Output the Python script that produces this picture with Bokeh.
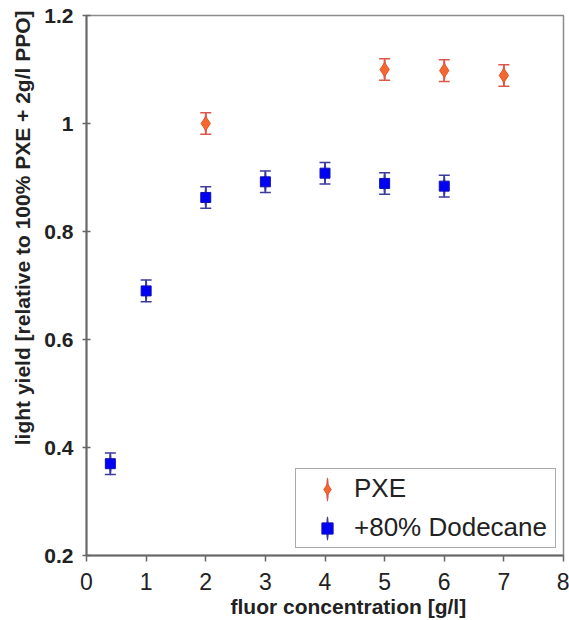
from bokeh.plotting import figure
from bokeh.models import (ColumnDataSource, Whisker, TeeHead, Legend, LegendItem,
                          FixedTicker, Title)
from bokeh.embed import file_html
from bokeh.resources import INLINE

# Light yield versus fluor concentration
pxe_conc = [2, 5, 6, 7]
pxe_yield = [1.000, 1.100, 1.098, 1.089]
pxe_err = [0.02, 0.02, 0.02, 0.02]

dod_conc = [0.4, 1, 2, 3, 4, 5, 6]
dod_yield = [0.370, 0.690, 0.863, 0.892, 0.908, 0.889, 0.884]
dod_err = [0.02, 0.02, 0.02, 0.02, 0.02, 0.02, 0.02]

series_names = ["PXE", "+80% Dodecane"]
x_ticks = [0, 1, 2, 3, 4, 5, 6, 7, 8]
y_ticks = [0.2, 0.4, 0.6, 0.8, 1.0, 1.2]
y_tick_labels = ["0.2", "0.4", "0.6", "0.8", "1", "1.2"]

FONT = "Liberation Sans"
PXE_FILL, PXE_LINE, PXE_BAR = "#F4682F", "#E2552B", "#D9584A"
DOD_FILL, DOD_LINE, DOD_BAR = "#0000F5", "#1010B0", "#3B3B9E"
AXIS_COL = "#666666"


def make_source(x, y, err):
    return ColumnDataSource(dict(
        x=x, y=y,
        lower=[v - e for v, e in zip(y, err)],
        upper=[v + e for v, e in zip(y, err)],
        span=[2 * e for e in err],
    ))


pxe_src = make_source(pxe_conc, pxe_yield, pxe_err)
dod_src = make_source(dod_conc, dod_yield, dod_err)

p = figure(width=569, height=620, x_range=(0, 8), y_range=(0.2, 1.2),
           output_backend="svg", toolbar_location=None,
           min_border_left=86, min_border_right=6, min_border_top=15, min_border_bottom=65)

p.grid.visible = False
p.outline_line_color = "#8c8c8c"
p.outline_line_width = 1.5
p.background_fill_color = "white"
p.border_fill_color = "white"

# axes
p.xaxis.ticker = FixedTicker(ticks=x_ticks)
p.yaxis.ticker = FixedTicker(ticks=y_ticks)
p.yaxis.major_label_overrides = dict(zip(y_ticks, y_tick_labels))
for ax in (p.xaxis[0], p.yaxis[0]):
    ax.axis_line_color = AXIS_COL
    ax.axis_line_width = 2
    ax.major_tick_line_color = AXIS_COL
    ax.major_tick_line_width = 1.5
    ax.minor_tick_line_color = None
    ax.major_label_text_font = FONT
    ax.major_label_text_color = "#222222"

p.xaxis.major_tick_in = 0
p.xaxis.major_tick_out = 6
p.xaxis.major_label_text_font_size = "23px"
p.xaxis.major_label_standoff = 11

p.yaxis.major_tick_in = 4
p.yaxis.major_tick_out = 4
p.yaxis.major_label_text_font_size = "21px"
p.yaxis.major_label_text_font_style = "bold"
p.yaxis.major_label_standoff = 9

# axis titles as titles beside the axes, so they can sit off-centre
xtitle = Title(text="fluor concentration [g/l]", align="left", offset=144,
               text_font=FONT, text_font_size="21px", text_font_style="bold",
               text_color="#222222", standoff=0)
p.add_layout(xtitle, "below")

ytitle = Title(text="light yield [relative to 100% PXE + 2g/l PPO]", align="right",
               offset=-5, text_font=FONT, text_font_size="21px", text_font_style="bold",
               text_color="#222222", standoff=15)
p.add_layout(ytitle, "left")

# error bars: a thin vertical ellipse for the shaft (also used as legend key), tee caps
shaft_renderers = []
for src, col in ((pxe_src, PXE_BAR), (dod_src, DOD_BAR)):
    w = Whisker(source=src, base="x", lower="lower", upper="upper",
                line_color=col, line_width=1.5, level="underlay",
                lower_head=TeeHead(size=11, line_color=col, line_width=1.5),
                upper_head=TeeHead(size=11, line_color=col, line_width=1.5))
    p.add_layout(w)
    r = p.ellipse(x="x", y="y", width=1, height="span", width_units="screen",
                  height_units="data", source=src, fill_color=None,
                  line_color=col, line_width=1.5)
    shaft_renderers.append(r)

# markers
pxe_r = p.scatter("x", "y", source=pxe_src, marker="diamond", size=14,
                  fill_color=PXE_FILL, line_color=PXE_LINE, line_width=1)
dod_r = p.scatter("x", "y", source=dod_src, marker="square", size=10,
                  fill_color=DOD_FILL, line_color=DOD_LINE, line_width=1)

legend = Legend(items=[
    LegendItem(label=series_names[0], renderers=[shaft_renderers[0], pxe_r]),
    LegendItem(label=series_names[1], renderers=[shaft_renderers[1], dod_r]),
], location="bottom_right")
legend.margin = 7
legend.padding = 4
legend.spacing = 8
legend.glyph_width = 54
legend.glyph_height = 28
legend.label_height = 28
legend.label_standoff = -11
legend.label_width = 197
legend.label_text_font = FONT
legend.label_text_font_size = "26px"
legend.label_text_color = "#222222"
legend.border_line_color = "#555555"
legend.border_line_width = 1.5
legend.background_fill_alpha = 1
p.add_layout(legend)

open("out.html", "w").write(file_html(p, INLINE))
